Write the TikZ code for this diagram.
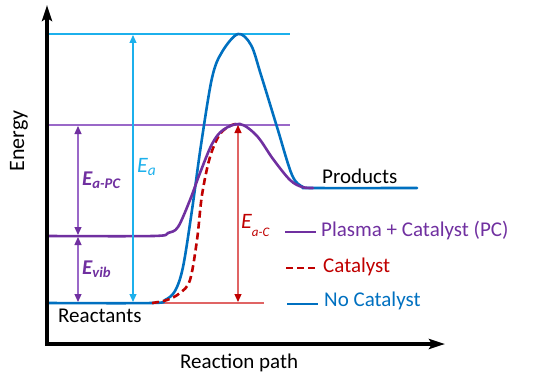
\documentclass[tikz,border=0pt]{standalone}
\usepackage{fontspec}
\setmainfont{Carlito}
\usetikzlibrary{arrows.meta}
\definecolor{ncblue}{HTML}{0070C0}
\definecolor{cyanE}{HTML}{1CB0EC}
\definecolor{pcpurple}{HTML}{7030A0}
\definecolor{lpurple}{HTML}{9A68C8}
\definecolor{cred}{HTML}{C00000}
\definecolor{lred}{HTML}{E06464}
\begin{document}
\begin{tikzpicture}[x=1pt,y=-1pt,
  dbl/.style={{Triangle[length=8pt,width=7pt]}-{Triangle[length=8pt,width=7pt]}, line width=1.1pt},
  txt/.style={font=\fontsize{21}{23}\selectfont, inner sep=0pt, anchor=base west},
  elbl/.style={font=\fontsize{22}{24}\selectfont\itshape, inner sep=0pt, anchor=base west},
  guide/.style={line width=1.1pt},
  curve/.style={line width=2.6pt, smooth, tension=0.55, line cap=round, line join=round}]
\useasboundingbox (0,0) rectangle (540,385);

% guide lines
\draw[guide, cyanE] (47,34) -- (290,34);
\draw[guide, lpurple] (47,125) -- (290,125);
\draw[guide, lred] (152,303) -- (264,303);

% curves
\draw[curve, ncblue] plot coordinates {(47,303) (152,303) (165,300) (175,291) (183,267) (192,210) (201,145) (212,78) (222,52) (238,34) (251,45) (261,75) (277,127) (292,175) (303,187) (313,188) (417,188)};
\draw[curve, cred, dash pattern=on 7pt off 4pt, line cap=butt] plot coordinates {(152,303) (167,300) (180,293) (190,280) (197,240) (202,195) (210,157) (220,134) (232,125) (240,124)};
\draw[curve, pcpurple] plot coordinates {(47,236) (153,236) (168,233) (178,227) (190,200) (200,173) (212,144) (223,130) (240,124) (257,136) (273,159) (290,180) (302,187) (313,188)};

% energy arrows
\coordinate (eaT) at (133,35); \coordinate (eaB) at (133,302);
\coordinate (pcT) at (78,126); \coordinate (pcB) at (78,235);
\coordinate (vbT) at (78,237); \coordinate (vbB) at (78,302);
\coordinate (acT) at (238,125); \coordinate (acB) at (238,302);
\draw[dbl, cyanE] (eaB) -- (eaT);
\draw[dbl, lpurple, {Triangle[length=8pt,width=7pt,color=pcpurple]}-{Triangle[length=8pt,width=7pt,color=pcpurple]}] (pcB) -- (pcT);
\draw[dbl, lpurple, {Triangle[length=8pt,width=7pt,color=pcpurple]}-{Triangle[length=8pt,width=7pt,color=pcpurple]}] (vbB) -- (vbT);
\draw[dbl, lred, {Triangle[length=8pt,width=7pt,color=cred]}-{Triangle[length=8pt,width=7pt,color=cred]}] (acB) -- (acT);

% axes
\coordinate (yTop) at (47,5); \coordinate (origin) at (47,344); \coordinate (xEnd) at (445,344);
\draw[line width=3.4pt, miter limit=10, {Stealth[length=16pt,width=10pt,inset=3pt]}-{Stealth[length=16pt,width=10pt,inset=3pt]}] (yTop) -- (origin) -- (xEnd);

% labels
\node[font=\fontsize{22}{24}\selectfont, rotate=90, inner sep=0pt] (energy) at (19,141) {Energy};
\node[txt] (rpath) at (180,368) {Reaction path};
\node[txt] (react) at (58,322) {Reactants};
\node[txt] (prod) at (322,183) {Products};

\node[elbl, cyanE] (ea) at (137,172) {E\textsubscript{a}};
\node[elbl, pcpurple, font=\fontsize{21}{23}\selectfont\bfseries\itshape] (eapc) at (82,185) {E\textsubscript{a-PC}};
\node[elbl, pcpurple, font=\fontsize{21}{23}\selectfont\bfseries\itshape] (evib) at (82,274) {E\textsubscript{vib}};
\node[elbl, cred] (eac) at (241,228) {E\raisebox{-8pt}{\fontsize{13}{13}\selectfont a-C}};

% legend
\coordinate (l1a) at (285,232); \coordinate (l1b) at (316,232);
\coordinate (l2a) at (286,268); \coordinate (l2b) at (318,268);
\coordinate (l3a) at (287,304); \coordinate (l3b) at (318,304);
\draw[line width=2.6pt, pcpurple] (l1a) -- (l1b);
\draw[line width=2.6pt, cred, dash pattern=on 7pt off 4pt] (l2a) -- (l2b);
\draw[line width=2.6pt, ncblue] (l3a) -- (l3b);
\node[txt, pcpurple] (leg1) at (321,236) {Plasma + Catalyst (PC)};
\node[txt, cred] (leg2) at (323,272) {Catalyst};
\node[txt, ncblue] (leg3) at (324,306) {No Catalyst};
\end{tikzpicture}
\end{document}
